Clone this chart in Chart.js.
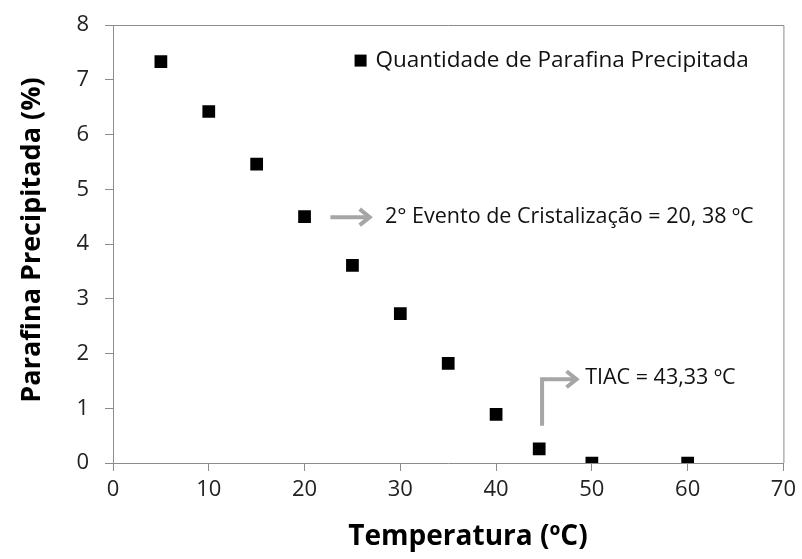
<!DOCTYPE html>
<html>
<head>
<meta charset="utf-8">
<script src="https://cdn.jsdelivr.net/npm/chart.js@4"></script>
<style>
  body { margin: 0; background: #fff; }
  #wrap { width: 802px; height: 559px; }
</style>
</head>
<body>
<div id="wrap"><canvas id="myChart" width="802" height="559"></canvas></div>
<script>
var temperatures = [5, 10, 15, 20, 25, 30, 35, 40, 44.5, 50, 60]
var precipitated = [7.33, 6.42, 5.46, 4.5, 3.61, 2.73, 1.82, 0.89, 0.26, 0, 0]
var seriesLabel = "Quantidade de Parafina Precipitada"
var note1 = "2° Evento de Cristalização = 20, 38 ºC"
var note2 = "TIAC = 43,33 ºC"
var xTitle = "Temperatura (ºC)"
var yTitle = "Parafina Precipitada (%)"

var font = "'Open Sans', 'Noto Sans', sans-serif"
var axisGray = "#8c8c8c"
var arrowGray = "#a6a6a6"

var points = []
for (let i = 0; i < temperatures.length; i++) {
    points.push({ x: temperatures[i], y: precipitated[i] })
}

function arrowHead(ctx, x, y) {
    ctx.beginPath()
    ctx.moveTo(x - 10, y - 8)
    ctx.lineTo(x, y)
    ctx.lineTo(x - 10, y + 8)
    ctx.stroke()
}

var extras = {
    id: "extras",
    afterDraw(chart) {
        var ctx = chart.ctx
        var a = chart.chartArea
        var xs = chart.scales.x
        var ys = chart.scales.y
        ctx.save()

        // plot border top & right
        ctx.strokeStyle = axisGray
        ctx.lineWidth = 1
        ctx.beginPath()
        ctx.moveTo(a.left, a.top + 0.5)
        ctx.lineTo(a.right + 0.5, a.top + 0.5)
        ctx.lineTo(a.right + 0.5, a.bottom)
        ctx.stroke()

        // axis titles
        ctx.fillStyle = "#000"
        ctx.textAlign = "center"
        ctx.textBaseline = "middle"
        ctx.font = "bold 28px " + font
        ctx.fillText(xTitle, 468, 537)
        ctx.save()
        ctx.translate(32, 240)
        ctx.rotate(-Math.PI / 2)
        ctx.font = "bold 27px " + font
        ctx.fillText(yTitle, 0, 0)
        ctx.restore()

        // legend
        ctx.textAlign = "left"
        ctx.fillStyle = "#000"
        var ly = ys.getPixelForValue(7.35)
        var lx = xs.getPixelForValue(25.85)
        ctx.fillRect(lx - 6, ly - 6, 12, 12)
        ctx.font = "22.5px " + font
        ctx.fillStyle = "#111"
        ctx.fillText(seriesLabel, xs.getPixelForValue(27.4), ly)

        // arrow 1
        ctx.strokeStyle = arrowGray
        ctx.lineWidth = 4
        var y1 = ys.getPixelForValue(4.49)
        var x1a = xs.getPixelForValue(22.7)
        var x1b = xs.getPixelForValue(26.8)
        ctx.beginPath()
        ctx.moveTo(x1a, y1)
        ctx.lineTo(x1b, y1)
        ctx.stroke()
        arrowHead(ctx, x1b, y1)
        ctx.font = "21.5px " + font
        ctx.fillText(note1, xs.getPixelForValue(28.4), y1)

        // arrow 2 (elbow)
        var x2 = xs.getPixelForValue(44.8)
        var y2a = ys.getPixelForValue(0.68)
        var y2b = ys.getPixelForValue(1.53)
        var x2b = xs.getPixelForValue(48.4)
        ctx.beginPath()
        ctx.moveTo(x2, y2a)
        ctx.lineTo(x2, y2b)
        ctx.lineTo(x2b, y2b)
        ctx.stroke()
        arrowHead(ctx, x2b, y2b)
        ctx.fillText(note2, xs.getPixelForValue(49.3), ys.getPixelForValue(1.55))

        ctx.restore()
    }
}

new Chart("myChart", {
    type: "scatter",
    data: {
        datasets: [{
            label: seriesLabel,
            data: points,
            pointStyle: "rect",
            pointRadius: 9,
            pointHoverRadius: 9,
            backgroundColor: "#000",
            borderColor: "#000",
            borderWidth: 0
        }]
    },
    options: {
        responsive: false,
        animation: false,
        layout: { padding: { top: 25, right: 14, left: 0, bottom: 0 } },
        plugins: {
            legend: { display: false },
            tooltip: { enabled: false }
        },
        scales: {
            x: {
                min: 0,
                max: 70,
                afterFit(scale) { scale.height = 96 },
                ticks: { stepSize: 10, color: "#222", font: { family: font, size: 22 }, padding: 6 },
                grid: { drawOnChartArea: false, drawTicks: true, tickLength: 8, color: axisGray },
                border: { color: axisGray }
            },
            y: {
                min: 0,
                max: 8,
                afterFit(scale) { scale.width = 113 },
                ticks: { stepSize: 1, color: "#222", font: { family: font, size: 22, lineHeight: 0.5 }, padding: 16 },
                grid: { drawOnChartArea: false, drawTicks: true, tickLength: 8, color: axisGray },
                border: { color: axisGray }
            }
        }
    },
    plugins: [extras]
})
</script>
</body>
</html>
